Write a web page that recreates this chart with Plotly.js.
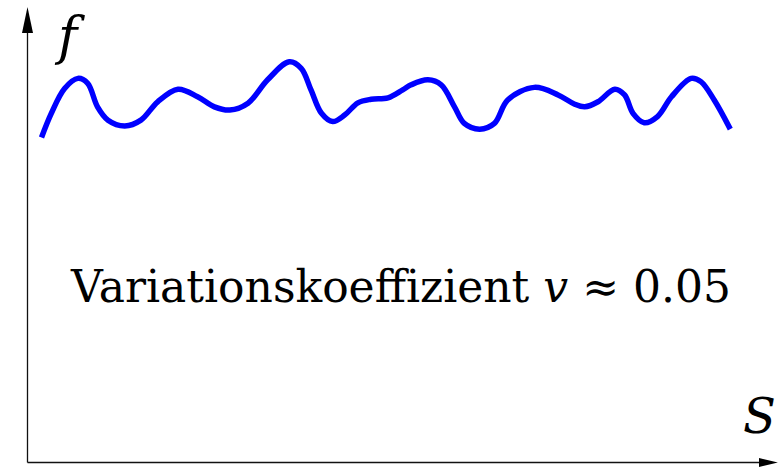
<!DOCTYPE html>
<html>
<head>
<meta charset="utf-8">
<script src="https://cdn.plot.ly/plotly-3.0.1.min.js"></script>
<style>
  html, body { margin: 0; padding: 0; background: #fff; }
  #chart { width: 778px; height: 468px; }
</style>
</head>
<body>
<div id="chart"></div>
<script>
// Sampled curve f(S): values fluctuating around 1 with a small coefficient of variation
const sValues = [0.20, 0.34, 0.53, 0.72, 0.86, 1.00, 1.15, 1.39, 1.62, 1.86,
                 2.15, 2.43, 2.67, 2.89, 3.15, 3.43, 3.74, 3.91, 4.05, 4.20,
                 4.36, 4.53, 4.72, 4.91, 5.15, 5.36, 5.48, 5.72, 5.91, 6.10,
                 6.24, 6.46, 6.67, 6.86, 7.24, 7.58, 7.81, 7.96, 8.15, 8.39,
                 8.53, 8.65, 8.81, 9.00, 9.20, 9.48, 9.62, 9.81, 10.04];
const fValues = [0.903, 0.970, 1.039, 1.067, 1.053, 0.988, 0.951, 0.935, 0.951, 1.002,
                 1.037, 1.016, 0.988, 0.979, 0.998, 1.063, 1.113, 1.095, 1.035, 0.970,
                 0.947, 0.965, 0.999, 1.009, 1.013, 1.035, 1.049, 1.063, 1.049, 0.988,
                 0.942, 0.926, 0.942, 1.007, 1.042, 1.021, 0.996, 0.988, 1.002, 1.037,
                 1.021, 0.970, 0.944, 0.961, 1.016, 1.067, 1.058, 1.007, 0.926];

const labelText = 'Variationskoeffizient <i>v</i> \u2248 0.05';
const xLabel = 'S';
const yLabel = 'f';

// Pixel scale of the axes (70 px per unit of S, 360 px per unit of f)
const sPerPx = 1 / 70, fPerPx = 1 / 360;
const xRange = [-27.5 * sPerPx, 750.5 * sPerPx];
const yRange = [-5.5 * fPerPx, 462.5 * fPerPx];

const serif = 'DejaVu Serif';
const axisColor = '#111';
const yBase = 1.193, yTip = 1.265;
const xBase = 10.45, xTip = 10.72;

const trace = {
  x: sValues, y: fValues,
  type: 'scatter', mode: 'lines',
  line: { color: '#0000ff', width: 5.5, shape: 'spline', smoothing: 1 },
  hoverinfo: 'skip'
};

const layout = {
  width: 778, height: 468,
  margin: { l: 0, r: 0, t: 0, b: 0 },
  paper_bgcolor: '#fff', plot_bgcolor: '#fff',
  showlegend: false,
  xaxis: { range: xRange, visible: false, fixedrange: true },
  yaxis: { range: yRange, visible: false, fixedrange: true },
  shapes: [
    // vertical axis
    { type: 'line', xref: 'x', yref: 'y', x0: 0, x1: 0, y0: 0, y1: yBase,
      line: { color: axisColor, width: 1.3 } },
    // horizontal axis
    { type: 'line', xref: 'x', yref: 'y', x0: 0, x1: xBase, y0: 0, y1: 0,
      line: { color: axisColor, width: 1.3 } },
    // arrowheads
    { type: 'path', xref: 'x', yref: 'y',
      path: `M ${-5.5 * sPerPx} ${yBase} L 0 ${yTip} L ${5.5 * sPerPx} ${yBase} Z`,
      fillcolor: '#000', line: { width: 0 } },
    { type: 'path', xref: 'x', yref: 'y',
      path: `M ${xBase} ${4.5 * fPerPx} L ${xTip} 0 L ${xBase} ${-4.5 * fPerPx} Z`,
      fillcolor: '#000', line: { width: 0 } }
  ],
  annotations: [
    { x: 5.33, y: 0.49, xref: 'x', yref: 'y', text: labelText, showarrow: false,
      xanchor: 'center', yanchor: 'middle',
      font: { family: serif, size: 44, color: '#000' } },
    { x: 0.6, y: 1.185, xref: 'x', yref: 'y', text: '<i>' + yLabel + '</i>', showarrow: false,
      xanchor: 'center', yanchor: 'middle',
      font: { family: serif, size: 52, color: '#000' } },
    { x: 10.45, y: 0.13, xref: 'x', yref: 'y', text: '<i>' + xLabel + '</i>', showarrow: false,
      xanchor: 'center', yanchor: 'middle',
      font: { family: serif, size: 48, color: '#000' } }
  ]
};

Plotly.newPlot('chart', [trace], layout, { displayModeBar: false, staticPlot: true });
</script>
</body>
</html>
